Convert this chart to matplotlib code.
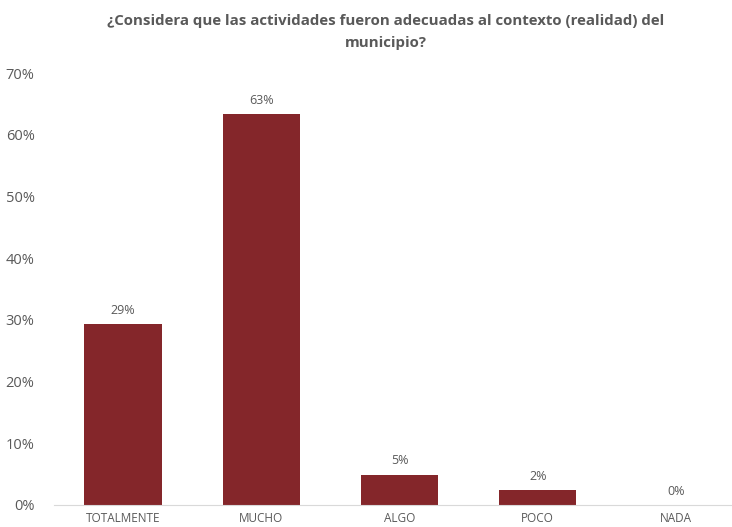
import numpy as np
import matplotlib
matplotlib.use('Agg')
import matplotlib.pyplot as plt
from matplotlib.ticker import PercentFormatter

categories = ['TOTALMENTE', 'MUCHO', 'ALGO', 'POCO', 'NADA']
shares = [0.293, 0.633, 0.049, 0.024, 0.0]
yticks = [0, 0.1, 0.2, 0.3, 0.4, 0.5, 0.6, 0.7]

BAR_COLOR = '#84262a'
TEXT_COLOR = '#595959'

plt.rcParams['font.family'] = ['Open Sans', 'DejaVu Sans']

fig = plt.figure(figsize=(7.32, 5.27), dpi=100)
ax = fig.add_axes([54 / 732, 22 / 527, 691 / 732, 432 / 527])

x = np.arange(len(categories))
bars = ax.bar(x, shares, width=0.56, color=BAR_COLOR)

for xi, v in zip(x, shares):
    ax.text(xi, v + 0.012, f'{v:.0%}', ha='center', va='bottom',
            fontsize=9, color=TEXT_COLOR)

ax.set_xlim(-0.5, 4.5)
ax.set_ylim(0, 0.7)
ax.set_yticks(yticks)
ax.yaxis.set_major_formatter(PercentFormatter(1.0, decimals=0))
ax.set_xticks(x)
ax.set_xticklabels(categories)

for s in ['top', 'right', 'left']:
    ax.spines[s].set_visible(False)
ax.spines['bottom'].set_color('#d9d9d9')
ax.tick_params(axis='both', length=0, colors=TEXT_COLOR)
ax.tick_params(axis='y', labelsize=10.5, pad=14)
ax.tick_params(axis='x', labelsize=8.5, pad=5)

fig.text(386 / 732, 1 - 32 / 527,
         '¿Considera que las actividades fueron adecuadas al contexto (realidad) del\nmunicipio?',
         ha='center', va='center', fontsize=10.8, fontweight='bold',
         color=TEXT_COLOR, linespacing=1.75)

fig.savefig('out.png', dpi=100)
